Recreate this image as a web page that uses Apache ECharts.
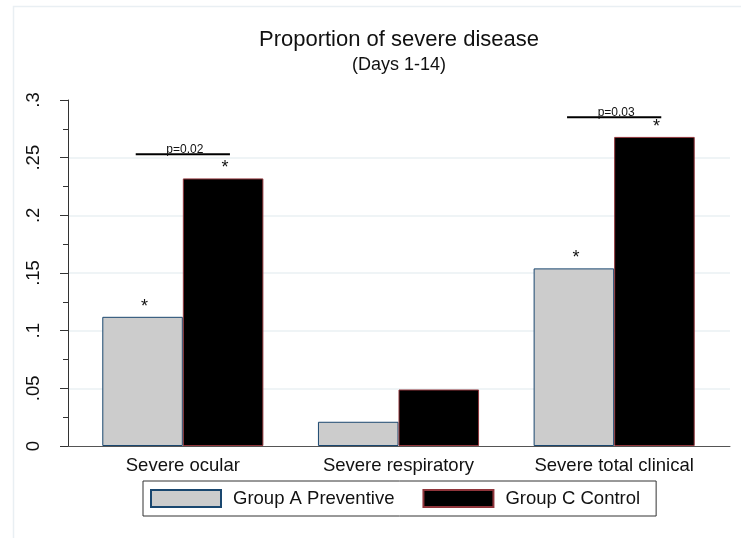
<!DOCTYPE html>
<html>
<head>
<meta charset="utf-8">
<script src="https://cdn.jsdelivr.net/npm/echarts@6/dist/echarts.min.js"></script>
<style>html,body{margin:0;padding:0;background:#fff;}#c{width:741px;height:538px;}</style>
</head>
<body>
<div id="c"></div>
<script>
// ---- data ----
const categories = ['Severe ocular', 'Severe respiratory', 'Severe total clinical'];
const seriesNames = ['Group A Preventive', 'Group C Control'];
const groupA = [0.112, 0.021, 0.154];
const groupC = [0.232, 0.049, 0.268];
const starsA = ['*', '', '*'];
const starsC = ['*', '', '*'];
const pCategoryIndex = [0, 2];
const pLabels = ['p=0.02', 'p=0.03'];
const pLevels = [0.253, 0.285];

const FONT = 'Liberation Sans, Arial, Helvetica, sans-serif';
const chart = echarts.init(document.getElementById('c'), null, {renderer: 'canvas'});

function tickLabel(v) {
  if (v === 0) return '0';
  return String(+v.toFixed(3)).replace(/^0\./, '.');
}

const starLabel = (arr) => (v, i) => ({
  value: v,
  label: {show: arr[i] === '*'}
});

const option = {
  animation: false,
  backgroundColor: '#ffffff',
  title: {
    text: 'Proportion of severe disease',
    subtext: '(Days 1-14)',
    left: 399,
    top: 29,
    padding: 0,
    textAlign: 'center',
    itemGap: 5,
    textStyle: {fontFamily: FONT, fontSize: 22, fontWeight: 'normal', color: '#111'},
    subtextStyle: {fontFamily: FONT, fontSize: 18, color: '#111'}
  },
  graphic: [{
    type: 'rect',
    shape: {x: 13.5, y: 6.5, width: 900, height: 700},
    style: {fill: 'none', stroke: '#e9eff3', lineWidth: 1.5},
    silent: true
  }],
  legend: {
    data: seriesNames,
    left: 143,
    top: 481,
    orient: 'horizontal',
    icon: 'rect',
    padding: [8, 16, 8, 7],
    itemWidth: 70,
    itemHeight: 17,
    itemGap: 28,
    borderColor: '#333',
    borderWidth: 1,
    textStyle: {fontFamily: FONT, fontSize: 18.5, color: '#111', padding: [0, 0, 0, 7]}
  },
  grid: [
    {left: 75, width: 647, top: 100, bottom: 92},
    {left: 68, right: 11, top: 100, bottom: 92}
  ],
  xAxis: [
    {
      type: 'category', gridIndex: 0, data: categories,
      axisLine: {show: false}, axisTick: {show: false},
      axisLabel: {fontFamily: FONT, fontSize: 18.5, color: '#111', margin: 10, interval: 0}
    },
    {
      type: 'value', gridIndex: 1, min: 0, max: 1,
      axisLine: {show: true, lineStyle: {color: '#555', width: 1}},
      axisTick: {show: false}, axisLabel: {show: false}, splitLine: {show: false}
    }
  ],
  yAxis: [
    {type: 'value', gridIndex: 0, min: 0, max: 0.3, show: false},
    {
      type: 'value', gridIndex: 1, min: 0, max: 0.3, interval: 0.05,
      axisLine: {show: true, lineStyle: {color: '#333', width: 1}},
      axisTick: {show: true, length: 8, lineStyle: {color: '#333'}},
      minorTick: {show: true, splitNumber: 2, length: 5, lineStyle: {color: '#333'}},
      axisLabel: {
        fontFamily: FONT, fontSize: 18.5, color: '#111', rotate: 90, margin: 25,
        formatter: tickLabel
      },
      splitLine: {
        show: true,
        lineStyle: {color: ['rgba(0,0,0,0)', '#eaf1f3', '#eaf1f3', '#eaf1f3', '#eaf1f3', '#eaf1f3', 'rgba(0,0,0,0)'], width: 1.5}
      }
    }
  ],
  series: [
    {
      name: seriesNames[0], type: 'bar', xAxisIndex: 0, yAxisIndex: 0,
      barGap: '0%', barCategoryGap: '25.3%',
      data: groupA.map(starLabel(starsA)),
      itemStyle: {color: '#cccccc', borderColor: '#1a476f', borderWidth: 1},
      label: {position: 'top', distance: 1, offset: [2, 0], formatter: '*', fontFamily: FONT, fontSize: 18, color: '#111'}
    },
    {
      name: seriesNames[1], type: 'bar', xAxisIndex: 0, yAxisIndex: 0,
      barGap: '0%', barCategoryGap: '25.3%',
      data: groupC.map(starLabel(starsC)),
      itemStyle: {color: '#000000', borderColor: '#90353b', borderWidth: 1},
      label: {position: 'top', distance: 1, offset: [2, 0], formatter: '*', fontFamily: FONT, fontSize: 18, color: '#111'}
    },
    {
      name: 'p-values', type: 'custom', xAxisIndex: 0, yAxisIndex: 0,
      silent: true, z: 5,
      data: pCategoryIndex.map((c, i) => [c, pLevels[i]]),
      renderItem: function (params, api) {
        const c = api.coord([api.value(0), api.value(1)]);
        const band = api.size([1, 0])[0];
        const barW = band * (1 - 0.253) / 2;
        const half = barW * 0.56;
        return {
          type: 'group',
          children: [
            {type: 'line', shape: {x1: c[0] - half - 2, y1: c[1], x2: c[0] + half + 2, y2: c[1]},
             style: {stroke: '#000', lineWidth: 2}},
            {type: 'text', x: c[0] + 2, y: c[1] + 1,
             style: {text: pLabels[params.dataIndex], textAlign: 'center', textVerticalAlign: 'bottom',
                     font: '12px ' + FONT, fill: '#111'}}
          ]
        };
      }
    }
  ]
};
chart.setOption(option);
</script>
</body>
</html>
